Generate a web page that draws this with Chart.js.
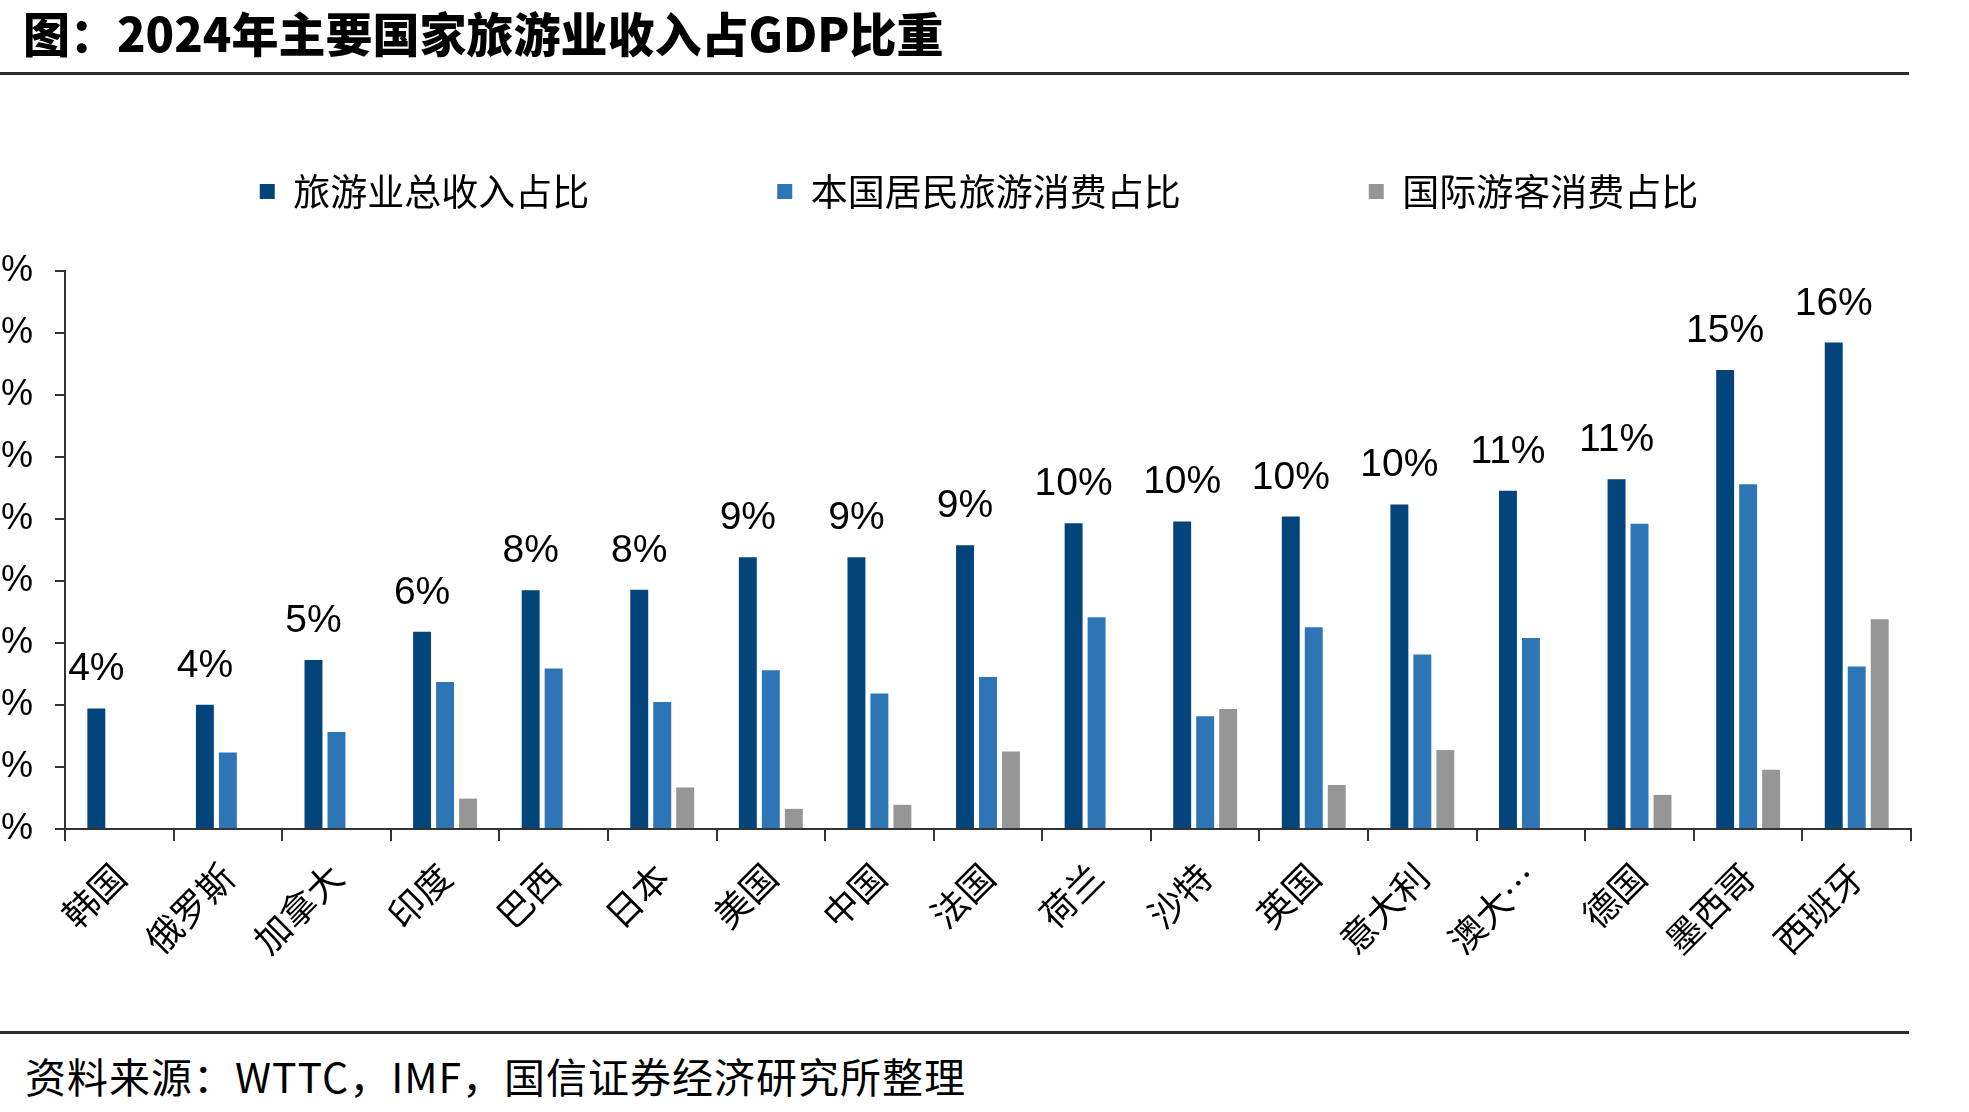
<!DOCTYPE html>
<html>
<head>
<meta charset="utf-8">
<script src="https://cdn.jsdelivr.net/npm/chart.js@4.4.1/dist/chart.umd.min.js"></script>
<style>
  html, body { margin: 0; padding: 0; background: #fff; }
  body { width: 1969px; height: 1112px; overflow: hidden; position: relative; }
  #title { position: absolute; left: 23px; top: 3px; font-family: "Noto Sans CJK SC", sans-serif; font-weight: 900; font-size: 47px; letter-spacing: 0px; line-height: 58px; color: #000; white-space: nowrap; z-index: 2; }
  .rule { position: absolute; left: 0; width: 1909px; height: 3px; background: #2b2b2b; z-index: 2; }
  #source { position: absolute; left: 25px; top: 1050px; font-family: "Noto Sans CJK SC", sans-serif; font-size: 41px; letter-spacing: 1px; line-height: 50px; color: #000; white-space: nowrap; z-index: 2; }
  #wrap { position: absolute; left: -39px; top: -27px; width: 2036px; height: 1006px; z-index: 1; }
</style>
</head>
<body>
<div id="title">图：2024年主要国家旅游业收入占GDP比重</div>
<div class="rule" style="top:72px"></div>
<div id="wrap"><canvas id="c"></canvas></div>
<div class="rule" style="top:1031px"></div>
<div id="source">资料来源：WTTC，IMF，国信证券经济研究所整理</div>
<script>
const categories = ['韩国','俄罗斯','加拿大','印度','巴西','日本','美国','中国','法国','荷兰','沙特','英国','意大利','澳大…','德国','墨西哥','西班牙'];
const seriesNames = ['旅游业总收入占比','本国居民旅游消费占比','国际游客消费占比'];
const totalShare = [3.89,4.01,5.45,6.36,7.70,7.72,8.77,8.77,9.15,9.86,9.92,10.08,10.47,10.91,11.28,14.81,15.69];
const domesticShare = [null,2.47,3.13,4.74,5.18,4.10,5.12,4.37,4.90,6.83,3.64,6.51,5.63,6.16,9.85,11.12,5.24];
const intlShare = [null,null,null,0.98,null,1.34,0.65,0.78,2.50,null,3.87,1.42,2.55,null,1.10,1.91,6.77];
const yTicks = [0,2,4,6,8,10,12,14,16,18];

const axisColor = '#333333';

const legendSpacer = {
  id: 'legendSpacer',
  beforeInit(chart) {
    const origFit = chart.legend.fit;
    chart.legend.fit = function () {
      origFit.bind(chart.legend)();
      this.height += 63;
    };
  },
  afterLayout(chart) {
    const lg = chart.legend;
    lg.left += 43; lg.right += 43;
    lg.top += 12; lg.bottom += 12;
  }
};

const totalLabels = {
  id: 'totalLabels',
  afterDatasetsDraw(chart) {
    const ctx = chart.ctx;
    const meta = chart.getDatasetMeta(0);
    ctx.save();
    ctx.font = '39px "Liberation Sans", Arial, sans-serif';
    ctx.fillStyle = '#000';
    ctx.textAlign = 'center';
    ctx.textBaseline = 'alphabetic';
    meta.data.forEach((bar, i) => {
      const v = chart.data.datasets[0].data[i];
      if (v == null) return;
      ctx.fillText(Math.round(v) + '%', bar.x, bar.y - 28);
    });
    ctx.restore();
  }
};

new Chart(document.getElementById('c'), {
  type: 'bar',
  data: {
    labels: categories,
    datasets: [
      { label: seriesNames[0], data: totalShare, backgroundColor: '#03447B', borderWidth: 0 },
      { label: seriesNames[1], data: domesticShare, backgroundColor: '#2E75B6', borderWidth: 0 },
      { label: seriesNames[2], data: intlShare, backgroundColor: '#969696', borderWidth: 0 }
    ]
  },
  options: {
    responsive: true,
    maintainAspectRatio: false,
    animation: false,
    devicePixelRatio: 1,
    layout: { padding: { left: 0, right: 86, top: 0, bottom: 0 } },
    datasets: { bar: { categoryPercentage: 0.635, barPercentage: 0.78 } },
    plugins: {
      tooltip: { enabled: false },
      legend: {
        position: 'top',
        align: 'center',
        labels: {
          boxWidth: 15,
          boxHeight: 15,
          padding: 188,
          color: '#000',
          font: { family: '"Noto Sans CJK SC", sans-serif', size: 37 }
        }
      }
    },
    scales: {
      x: {
        grid: { display: true, drawOnChartArea: false, drawTicks: true, tickLength: 12, color: axisColor, lineWidth: 2, offset: true },
        border: { display: true, color: axisColor, width: 2 },
        ticks: {
          color: '#000',
          font: { family: '"Noto Sans CJK SC", sans-serif', size: 36 },
          minRotation: 45, maxRotation: 45, padding: 14, autoSkip: false
        },
        afterFit(axis) { axis.height = 150; }
      },
      y: {
        min: 0, max: 18,
        afterBuildTicks(axis) { axis.ticks = yTicks.map(v => ({ value: v })); },
        grid: { display: true, drawOnChartArea: false, drawTicks: true, tickLength: 10, color: axisColor, lineWidth: 2 },
        border: { display: true, color: axisColor, width: 2 },
        ticks: {
          color: '#000',
          padding: 22,
          font: { family: '"Liberation Sans", Arial, sans-serif', size: 36 },
          callback: v => v + '%'
        },
        afterFit(axis) { axis.width = 104; }
      }
    }
  },
  plugins: [legendSpacer, totalLabels]
});
</script>
</body>
</html>
